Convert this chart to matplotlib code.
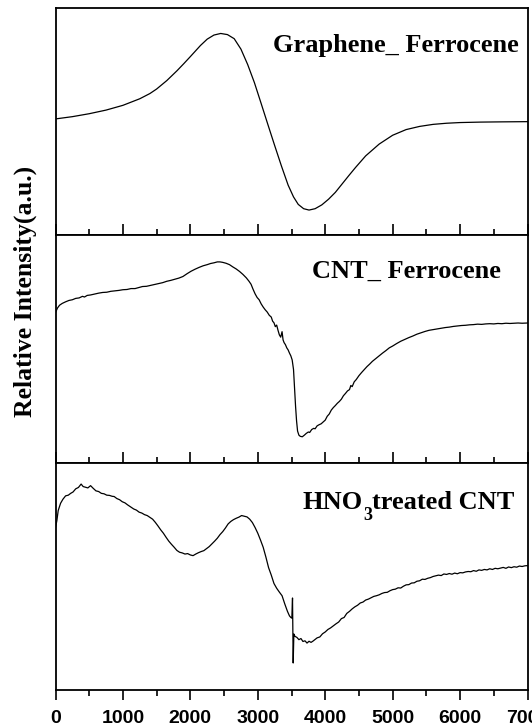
import matplotlib
matplotlib.use("Agg")
import matplotlib.pyplot as plt
from matplotlib.ticker import MultipleLocator

# ---------------- data (relative intensity, arbitrary units) ----------------
x_ticks = [0, 1000, 2000, 3000, 4000, 5000, 6000, 7000]
tick_labels = ["0", "1000", "2000", "3000", "4000", "5000", "6000", "7000"]
panel_labels = ["Graphene_ Ferrocene", "CNT_ Ferrocene", ("HNO", "3", "treated CNT")]

graphene_x = [0, 250, 500, 750, 1000, 1250, 1400, 1500, 1650, 1800, 1900, 2000, 2150,
              2250, 2350, 2450, 2550, 2650, 2750, 2850, 2950, 3050, 3150, 3250,
              3350, 3450, 3530, 3600, 3680, 3760, 3850, 3950, 4050, 4150, 4250,
              4350, 4450, 4600, 4800, 5000, 5200, 5400, 5600, 5800, 6000, 6300,
              6600, 7000]
graphene_y = [0.512, 0.522, 0.535, 0.551, 0.572, 0.601, 0.624, 0.644, 0.681, 0.724, 0.755,
              0.787, 0.836, 0.864, 0.882, 0.889, 0.884, 0.866, 0.820, 0.752, 0.672,
              0.580, 0.487, 0.395, 0.305, 0.220, 0.168, 0.135, 0.116, 0.110, 0.116,
              0.133, 0.158, 0.188, 0.225, 0.262, 0.298, 0.349, 0.401, 0.440, 0.465,
              0.479, 0.488, 0.493, 0.496, 0.498, 0.499, 0.500]

cnt_x = [0, 30, 60, 100, 150, 200, 250, 300, 350, 400, 430, 470, 520, 580, 640,
         700, 760, 820, 880, 940, 1000, 1060, 1120, 1180, 1240, 1290, 1350, 1410,
         1470, 1530, 1590, 1650, 1710, 1770, 1830, 1890, 1950, 2010, 2070, 2130,
         2190, 2250, 2300, 2350, 2400, 2440, 2480, 2530, 2580, 2630, 2680, 2730,
         2780, 2830, 2870, 2900, 2930, 2960, 2990, 3020, 3050, 3080, 3110, 3140,
         3170, 3200, 3220, 3240, 3260, 3280, 3300, 3320, 3340, 3360, 3375, 3390,
         3410, 3430, 3450, 3470, 3490, 3510, 3530, 3545, 3560, 3575, 3590, 3610,
         3630, 3660, 3690, 3720, 3750, 3770, 3800, 3830, 3850, 3880, 3910, 3940,
         3970, 4000, 4030, 4060, 4090, 4120, 4150, 4180, 4210, 4240, 4270, 4300,
         4330, 4360, 4380, 4400, 4430, 4460, 4500, 4540, 4580, 4620, 4660, 4700,
         4750, 4800, 4850, 4900, 4950, 5000, 5060, 5120, 5180, 5240, 5300, 5360,
         5420, 5480, 5540, 5600, 5660, 5720, 5780, 5840, 5900, 5960, 6020, 6080,
         6140, 6200, 6260, 6320, 6380, 6440, 6500, 6560, 6620, 6680, 6740, 6800,
         6860, 6920, 7000]
cnt_y = [0.660, 0.680, 0.692, 0.700, 0.707, 0.713, 0.716, 0.722, 0.724, 0.731,
         0.728, 0.735, 0.737, 0.741, 0.745, 0.748, 0.749, 0.753, 0.755, 0.757,
         0.760, 0.761, 0.765, 0.765, 0.770, 0.774, 0.775, 0.779, 0.783, 0.787,
         0.791, 0.797, 0.801, 0.806, 0.811, 0.818, 0.830, 0.841, 0.850, 0.858,
         0.865, 0.870, 0.875, 0.878, 0.882, 0.882, 0.880, 0.876, 0.870, 0.860,
         0.851, 0.840, 0.827, 0.812, 0.797, 0.784, 0.762, 0.742, 0.726, 0.716,
         0.698, 0.684, 0.672, 0.662, 0.648, 0.640, 0.622, 0.615, 0.598, 0.605,
         0.582, 0.562, 0.552, 0.576, 0.540, 0.528, 0.519, 0.505, 0.496, 0.482,
         0.470, 0.452, 0.410, 0.330, 0.250, 0.185, 0.140, 0.122, 0.117, 0.115,
         0.122, 0.130, 0.136, 0.134, 0.147, 0.152, 0.150, 0.163, 0.168, 0.172,
         0.180, 0.188, 0.205, 0.215, 0.232, 0.243, 0.252, 0.262, 0.270, 0.280,
         0.295, 0.305, 0.316, 0.322, 0.340, 0.335, 0.356, 0.366, 0.383, 0.397,
         0.410, 0.423, 0.434, 0.446, 0.458, 0.470, 0.482, 0.493, 0.505, 0.513,
         0.524, 0.534, 0.542, 0.550, 0.557, 0.565, 0.571, 0.577, 0.582, 0.585,
         0.588, 0.591, 0.594, 0.596, 0.599, 0.601, 0.603, 0.604, 0.606, 0.607,
         0.609, 0.608, 0.610, 0.611, 0.610, 0.612, 0.611, 0.613, 0.612, 0.613,
         0.614, 0.613, 0.614]

hno3_x = [0, 20, 40, 75, 110, 150, 190, 225, 260, 300, 340, 380, 410, 445, 480,
          520, 560, 600, 640, 680, 720, 760, 800, 840, 870, 910, 950, 990, 1030,
          1070, 1110, 1160, 1200, 1240, 1280, 1320, 1360, 1400, 1440, 1480, 1520,
          1560, 1600, 1640, 1680, 1720, 1760, 1800, 1840, 1880, 1920, 1960, 2000,
          2040, 2080, 2120, 2160, 2200, 2240, 2280, 2320, 2360, 2400, 2440, 2480,
          2520, 2560, 2600, 2640, 2680, 2720, 2760, 2800, 2840, 2880, 2920, 2960,
          3000, 3040, 3080, 3120, 3160, 3200, 3240, 3280, 3320, 3360, 3400, 3440,
          3470, 3490, 3505, 3515, 3525, 3535, 3550, 3580, 3610, 3640, 3670, 3700,
          3730, 3760, 3790, 3820, 3850, 3880, 3920, 3960, 4000, 4040, 4080, 4120,
          4160, 4200, 4240, 4280, 4320, 4360, 4400, 4440, 4480, 4520, 4560, 4600,
          4640, 4680, 4720, 4760, 4800, 4840, 4880, 4920, 4960, 5000, 5040, 5080,
          5120, 5160, 5200, 5240, 5280, 5320, 5360, 5400, 5440, 5480, 5520, 5560,
          5600, 5640, 5680, 5720, 5760, 5800, 5840, 5880, 5920, 5960, 6000, 6040,
          6080, 6120, 6160, 6200, 6240, 6280, 6320, 6360, 6400, 6440, 6480, 6520,
          6560, 6600, 6640, 6680, 6720, 6760, 6800, 6840, 6880, 6920, 6960, 7000]
hno3_y = [0.715, 0.745, 0.790, 0.822, 0.840, 0.855, 0.858, 0.866, 0.872, 0.886,
          0.892, 0.907, 0.896, 0.893, 0.890, 0.900, 0.888, 0.877, 0.874, 0.866,
          0.864, 0.858, 0.857, 0.853, 0.852, 0.843, 0.838, 0.829, 0.824, 0.815,
          0.807, 0.797, 0.792, 0.783, 0.779, 0.772, 0.768, 0.760, 0.752, 0.738,
          0.722, 0.705, 0.690, 0.672, 0.655, 0.641, 0.628, 0.614, 0.606, 0.603,
          0.598, 0.600, 0.594, 0.591, 0.598, 0.604, 0.609, 0.613, 0.622, 0.631,
          0.643, 0.655, 0.668, 0.684, 0.697, 0.713, 0.731, 0.742, 0.750, 0.756,
          0.761, 0.768, 0.765, 0.762, 0.752, 0.737, 0.715, 0.690, 0.660, 0.628,
          0.585, 0.538, 0.505, 0.468, 0.447, 0.430, 0.414, 0.378, 0.345, 0.325,
          0.318, 0.315, 0.404, 0.117, 0.245, 0.235, 0.230, 0.220, 0.225, 0.212,
          0.215, 0.205, 0.213, 0.208, 0.214, 0.221, 0.228, 0.232, 0.246, 0.254,
          0.265, 0.272, 0.281, 0.290, 0.298, 0.313, 0.318, 0.336, 0.345, 0.356,
          0.365, 0.372, 0.382, 0.386, 0.395, 0.399, 0.405, 0.411, 0.414, 0.418,
          0.424, 0.428, 0.429, 0.436, 0.441, 0.443, 0.449, 0.448, 0.456, 0.462,
          0.463, 0.470, 0.471, 0.478, 0.480, 0.487, 0.486, 0.491, 0.494, 0.499,
          0.502, 0.505, 0.503, 0.510, 0.508, 0.512, 0.509, 0.514, 0.511, 0.516,
          0.515, 0.519, 0.521, 0.520, 0.525, 0.522, 0.528, 0.526, 0.530, 0.528,
          0.533, 0.530, 0.535, 0.533, 0.536, 0.539, 0.535, 0.541, 0.538, 0.542,
          0.540, 0.545, 0.543, 0.546, 0.547]

series_x = [graphene_x, cnt_x, hno3_x]
series_y = [graphene_y, cnt_y, hno3_y]

# ---------------- figure ----------------
W, H = 532, 726
fig = plt.figure(figsize=(W / 100, H / 100), dpi=100)

left, right = 55.5 / W, 527.5 / W
edges_px = [8.3, 235.0, 463.0, 689.5]
label_pos = [(0.982, 0.809), (0.943, 0.811), (0.5237, 0.796)]

serif = dict(family=['Liberation Serif', 'DejaVu Serif'], weight='bold')

axes = []
for i in range(3):
    top = 1 - edges_px[i] / H
    bot = 1 - edges_px[i + 1] / H
    ax = fig.add_axes([left, bot, right - left, top - bot])
    ax.plot(series_x[i], series_y[i], color='black', lw=0.9)
    ax.set_xlim(0, 7000)
    ax.set_ylim(0, 1)
    ax.set_yticks([])
    ax.xaxis.set_major_locator(MultipleLocator(1000))
    ax.xaxis.set_minor_locator(MultipleLocator(500))
    for sp in ax.spines.values():
        sp.set_linewidth(1.3)
    if i < 2:
        ax.tick_params(axis='x', which='both', direction='in', bottom=True,
                       top=False, labelbottom=False, width=1.2)
        ax.tick_params(axis='x', which='major', length=8)
        ax.tick_params(axis='x', which='minor', length=4)
    else:
        ax.tick_params(axis='x', which='both', direction='out', bottom=True,
                       top=False, width=1.2)
        ax.tick_params(axis='x', which='major', length=7, pad=8)
        ax.tick_params(axis='x', which='minor', length=4)
        ax.set_xticks(x_ticks)
        ax.set_xticklabels(tick_labels, fontsize=14, fontweight='bold',
                           family=['Liberation Sans', 'DejaVu Sans'])
    lx, ly = label_pos[i]
    lab = panel_labels[i]
    if isinstance(lab, tuple):
        t1 = ax.text(lx, ly, lab[0], transform=ax.transAxes, ha='left',
                     va='baseline', fontsize=19, **serif)
        t2 = ax.annotate(lab[1], xy=(1, ly), xycoords=(t1, 'axes fraction'),
                         xytext=(0.3, -7.5), textcoords='offset points',
                         ha='left', va='baseline', fontsize=13, **serif)
        ax.annotate(lab[2], xy=(1, ly), xycoords=(t2, 'axes fraction'),
                    xytext=(0, 0), textcoords='offset points',
                    ha='left', va='baseline', fontsize=19, **serif)
    else:
        ax.text(lx, ly, lab, transform=ax.transAxes, ha='right',
                va='baseline', fontsize=19, **serif)
    axes.append(ax)

fig.text(25 / W, 1 - 291 / H, "Relative Intensity(a.u.)", rotation=90,
         ha='center', va='center', fontsize=18.5, **serif)

fig.savefig("out.png", dpi=100)
